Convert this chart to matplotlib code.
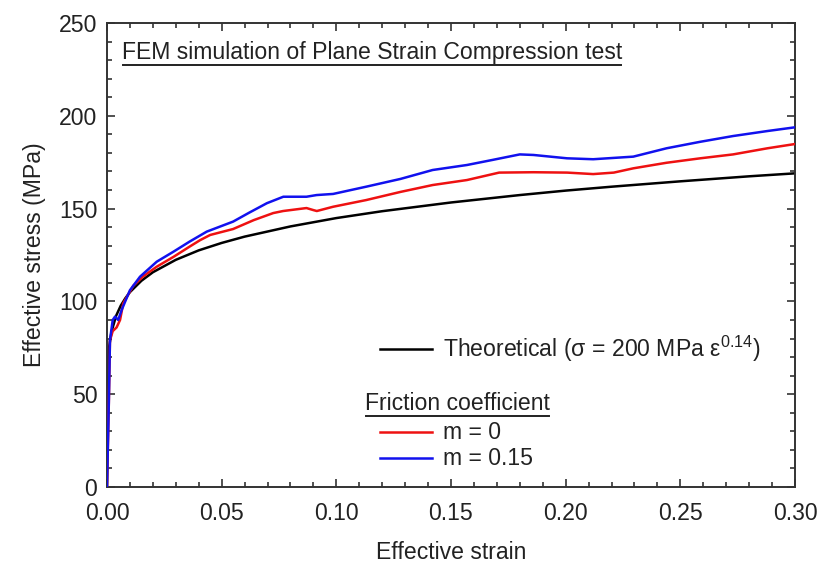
import matplotlib
matplotlib.use("Agg")
import matplotlib.pyplot as plt
from matplotlib.ticker import MultipleLocator, FormatStrFormatter
from matplotlib.lines import Line2D

plt.rcParams['font.family'] = ['Liberation Sans', 'DejaVu Sans']
plt.rcParams['mathtext.fontset'] = 'custom'
plt.rcParams['mathtext.rm'] = 'Liberation Sans'

# theoretical flow curve, sigma = 200 MPa * eps^0.14
theo_strain = [0.0, 0.0005, 0.001, 0.002, 0.004, 0.006, 0.008, 0.01, 0.015, 0.02, 0.03,
               0.04, 0.05, 0.06, 0.08, 0.10, 0.12, 0.15, 0.18, 0.20, 0.22, 0.25, 0.28, 0.30]
theo_stress = [0.0, 69.0, 76.0, 83.8, 92.3, 97.7, 101.7, 105.0, 111.1, 115.7, 122.4,
               127.5, 131.5, 134.9, 140.4, 144.9, 148.6, 153.3, 157.3, 159.7, 161.8, 164.7, 167.4, 169.0]

# FEM result, m = 0
m0_strain = [0.0, 0.0008, 0.0013, 0.0025, 0.0042, 0.0057, 0.0071, 0.0115, 0.0158, 0.0217, 0.029,
             0.036, 0.0406, 0.045, 0.055, 0.064, 0.0725, 0.0768, 0.087, 0.090, 0.0915, 0.0986, 0.113,
             0.128, 0.142, 0.157, 0.171, 0.186, 0.2007, 0.212, 0.221, 0.2295, 0.244, 0.2587,
             0.273, 0.288, 0.300]
m0_stress = [0.0, 45.0, 79.0, 84.0, 86.0, 90.0, 99.0, 108.5, 113.5, 118.7, 124.0,
             129.5, 133.0, 135.8, 139.0, 143.8, 147.6, 148.7, 150.3, 149.2, 148.7, 151.0, 154.6,
             159.0, 162.7, 165.4, 169.4, 169.6, 169.4, 168.6, 169.4, 171.7, 174.7, 177.1,
             179.2, 182.5, 184.8]

# FEM result, m = 0.15
m15_strain = [0.0, 0.0008, 0.0013, 0.0025, 0.0035, 0.0049, 0.0064, 0.010, 0.0144, 0.0217, 0.029,
              0.036, 0.0435, 0.055, 0.062, 0.0697, 0.0769, 0.087, 0.0914, 0.0986, 0.113, 0.128, 0.142,
              0.157, 0.168, 0.180, 0.186, 0.2006, 0.212, 0.2295, 0.244, 0.2587, 0.273, 0.288, 0.300]
m15_stress = [0.0, 45.0, 79.0, 90.0, 91.8, 90.0, 95.4, 106.0, 113.3, 121.4, 126.8,
              132.2, 137.6, 143.0, 147.8, 152.9, 156.4, 156.4, 157.3, 157.9, 161.8, 166.0, 170.8,
              173.5, 176.2, 179.2, 178.9, 177.1, 176.6, 178.0, 182.5, 186.0, 189.1, 191.8, 193.8]

FS = 16.6
TXT = '#222222'

fig = plt.figure(figsize=(8.21, 5.65), dpi=100)
ax = fig.add_axes([0.1303, 0.138, 0.838, 0.8213])

ax.plot(theo_strain, theo_stress, color='black', lw=1.8, zorder=2)
ax.plot(m0_strain, m0_stress, color='#ee1111', lw=1.8, zorder=3)
ax.plot(m15_strain, m15_stress, color='#1111ee', lw=1.8, zorder=4)

ax.set_xlim(0, 0.30)
ax.set_ylim(0, 250)
ax.xaxis.set_major_locator(MultipleLocator(0.05))
ax.xaxis.set_minor_locator(MultipleLocator(0.01))
ax.yaxis.set_major_locator(MultipleLocator(50))
ax.yaxis.set_minor_locator(MultipleLocator(10))
ax.xaxis.set_major_formatter(FormatStrFormatter('%.2f'))
ax.tick_params(which='both', direction='in', top=True, right=True, colors='#333333',
               labelcolor=TXT, labelsize=FS, width=1.2)
ax.tick_params(which='major', length=6)
ax.tick_params(axis='x', which='major', pad=11)
ax.tick_params(axis='y', which='major', pad=7)
ax.tick_params(which='minor', length=3.5)
for sp in ax.spines.values():
    sp.set_color('#333333')
    sp.set_linewidth(1.4)

ax.set_xlabel('Effective strain', fontsize=FS, color=TXT, labelpad=11)
ax.set_ylabel('Effective stress (MPa)', fontsize=FS, color=TXT, labelpad=9)

tx = lambda px: (px - 107) / 688.0
ty = lambda py: (487 - py) / 464.0

title = ax.text(tx(122), ty(53), 'FEM simulation of Plane Strain Compression test',
                transform=ax.transAxes, fontsize=FS, color=TXT, va='center', ha='left')

# legend drawn by hand
ax.add_line(Line2D([tx(380), tx(432)], [ty(349), ty(349)], transform=ax.transAxes,
                   color='black', lw=1.8))
ax.text(tx(443), ty(349), 'Theoretical (σ = 200 MPa ε$^{\\mathregular{0.14}}$)',
        transform=ax.transAxes, fontsize=FS, color=TXT, va='center', ha='left')
fric = ax.text(tx(365), ty(403), 'Friction coefficient', transform=ax.transAxes,
               fontsize=FS, color=TXT, va='center', ha='left')
ax.add_line(Line2D([tx(380), tx(432)], [ty(432), ty(432)], transform=ax.transAxes,
                   color='#ee1111', lw=1.8))
ax.text(tx(443), ty(432), 'm = 0', transform=ax.transAxes, fontsize=FS,
        color=TXT, va='center', ha='left')
ax.add_line(Line2D([tx(380), tx(432)], [ty(458), ty(458)], transform=ax.transAxes,
                   color='#1111ee', lw=1.8))
ax.text(tx(443), ty(458), 'm = 0.15', transform=ax.transAxes, fontsize=FS,
        color=TXT, va='center', ha='left')

# underline the two headings
fig.canvas.draw()
r = fig.canvas.get_renderer()
for t in (title, fric):
    bb = t.get_window_extent(r)
    y = bb.y0 - 1
    fig.add_artist(Line2D([bb.x0 + 1, bb.x1 - 1], [y, y], transform=None,
                          color=TXT, lw=1.4))

fig.savefig('out.png', dpi=100)
